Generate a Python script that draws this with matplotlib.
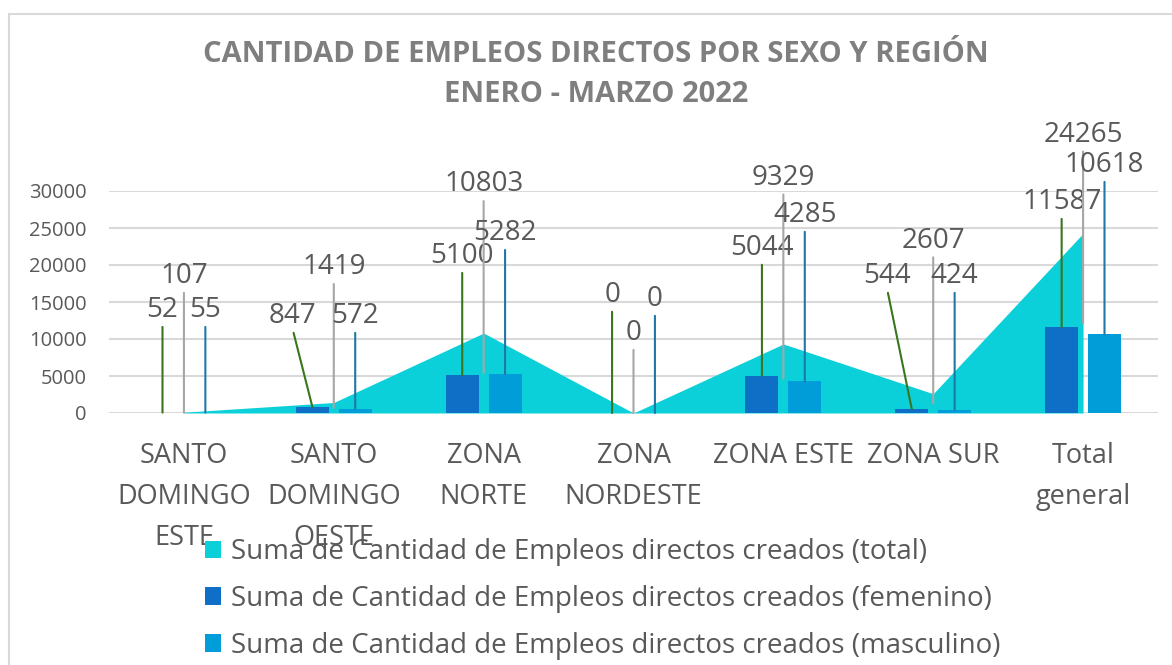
import matplotlib
matplotlib.use("Agg")
import matplotlib.pyplot as plt
import numpy as np
from matplotlib.patches import Patch
from matplotlib.lines import Line2D

# data
regiones = ["SANTO\nDOMINGO\nESTE", "SANTO\nDOMINGO\nOESTE", "ZONA\nNORTE", "ZONA\nNORDESTE",
            "ZONA ESTE", "ZONA SUR", "Total\ngeneral"]
total = [107, 1419, 10803, 0, 9329, 2607, 24265]
femenino = [52, 847, 5100, 0, 5044, 544, 11587]
masculino = [55, 572, 5282, 0, 4285, 424, 10618]

nombres = ["Suma de Cantidad de Empleos directos creados (total)",
           "Suma de Cantidad de Empleos directos creados (femenino)",
           "Suma de Cantidad de Empleos directos creados (masculino)"]

# label placement (layout only): label centre height in data units, x shift in category units
lab_y_total = [18500, 19700, 30900, 10800, 31800, 23300, 37600]
lab_y_fem = [13900, 13100, 21200, 15950, 22300, 18500, 28500]
lab_y_masc = [13900, 13100, 24300, 15400, 26750, 18500, 33500]
lab_dx_fem = [0, -0.13, 0, 0, 0, -0.163, 0]

c_total = "#0BD0D9"
c_fem = "#0F6FC6"
c_masc = "#009DD9"
txt = "#595959"

plt.rcParams['font.family'] = ['Open Sans', 'DejaVu Sans']

fig = plt.figure(figsize=(11.72, 6.65), dpi=100)
ax = fig.add_axes([109 / 1172, 1 - 413 / 665, (1158 - 109) / 1172, (413 - 191) / 665])

x = np.arange(len(regiones))
off = 0.143
w = 0.22

ax.fill_between(x, total, 0, color=c_total, lw=0, zorder=2)
ax.bar(x - off, femenino, width=w, color=c_fem, zorder=3)
ax.bar(x + off, masculino, width=w, color=c_masc, zorder=3)

ax.set_xlim(-0.5, len(regiones) - 0.5)
ax.set_ylim(0, 30000)
ax.set_yticks(np.arange(0, 30001, 5000))
ax.yaxis.grid(True, color="#d9d9d9", lw=1.5, zorder=0)
ax.set_axisbelow(True)
for s in ax.spines.values():
    s.set_visible(False)
ax.tick_params(axis='y', length=0, pad=16, labelsize=14.5, labelcolor=txt)
ax.tick_params(axis='x', length=0, pad=21, labelsize=19.5, labelcolor=txt)
ax.set_xticks(x)
ax.set_xticklabels(regiones, linespacing=1.62, va='top')


def etiqueta(v, xp, yp, xl, yl, col):
    ax.annotate(f"{v}", xy=(xp, yp), xytext=(xl, yl), textcoords='data',
                ha='center', va='center', fontsize=20, color=txt, zorder=5,
                annotation_clip=False,
                arrowprops=dict(arrowstyle='-', color=col, lw=1.5, shrinkA=0, shrinkB=0,
                                relpos=(0.5, 0.0)))


for i in range(len(regiones)):
    etiqueta(femenino[i], i - off, femenino[i], i - off + lab_dx_fem[i], lab_y_fem[i], "#38761d")
    etiqueta(total[i], i, total[i] / 2, i, lab_y_total[i], "#a6a6a6")
    etiqueta(masculino[i], i + off, masculino[i], i + off, lab_y_masc[i], "#1f77a8")

fig.text(596 / 1172, 1 - 55 / 665, "CANTIDAD DE EMPLEOS DIRECTOS POR SEXO Y REGIÓN",
         ha='center', va='center', fontsize=21, fontweight='bold', color="#7f7f7f")
fig.text(596 / 1172, 1 - 94 / 665, "ENERO - MARZO 2022",
         ha='center', va='center', fontsize=21, fontweight='bold', color="#7f7f7f")

handles = [Patch(facecolor=c, edgecolor='none') for c in (c_total, c_fem, c_masc)]
fig.legend(handles, nombres, loc='upper left', bbox_to_anchor=(205 / 1172, 1 - 538 / 665),
           frameon=False, fontsize=20, labelcolor=txt, handlelength=0.58, handleheight=0.58,
           handletextpad=0.35, labelspacing=0.68, borderaxespad=0, borderpad=0)

# chart border
fig.add_artist(Line2D([8.5 / 1172, 1.0], [1 - 14 / 665, 1 - 14 / 665], color="#d9d9d9", lw=1.5))
fig.add_artist(Line2D([8.5 / 1172, 8.5 / 1172], [0, 1 - 14 / 665], color="#d9d9d9", lw=1.5))

fig.savefig("out.png", dpi=100)
